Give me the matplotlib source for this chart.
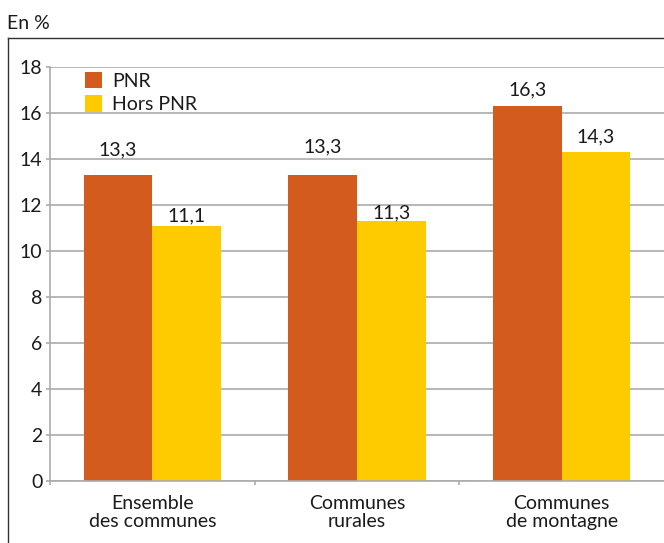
import matplotlib
matplotlib.use("Agg")
import matplotlib.pyplot as plt
import numpy as np
from matplotlib.lines import Line2D

categories = ["Ensemble\ndes communes", "Communes\nrurales", "Communes\nde montagne"]
pnr = [13.3, 13.3, 16.3]
hors_pnr = [11.1, 11.3, 14.3]
series_names = ["PNR", "Hors PNR"]
yticks = [0, 2, 4, 6, 8, 10, 12, 14, 16, 18]

# gap (in pixels) between each bar top and the baseline of its value label
pnr_label_gap = [20, 23, 11]
hors_label_gap = [4, 3, 10]

ORANGE = "#D25B1D"
YELLOW = "#FECB00"
GRID = "#ABABAB"
TEXT = "#1A1A1A"
FS = 14

plt.rcParams["font.family"] = ["Lato", "DejaVu Sans"]

W, H = 664, 543
fig = plt.figure(figsize=(W / 100, H / 100), dpi=100)

# outer frame (left and top edges)
fig.add_artist(Line2D([8 / W, 8 / W], [0, 1 - 38 / H], color="#333333", lw=1.0))
fig.add_artist(Line2D([8 / W, 1], [1 - 38 / H, 1 - 38 / H], color="#333333", lw=1.0))
fig.text(7 / W, 1 - 29 / H, "En %", fontsize=FS, color=TEXT, ha="left", va="baseline")

ax = fig.add_axes([50 / W, 1 - 481 / H, (W - 50) / W, (481 - 67) / H])
x = np.arange(len(categories))
w = 0.336
b1 = ax.bar(x - w / 2, pnr, w, color=ORANGE, label=series_names[0], zorder=2)
b2 = ax.bar(x + w / 2, hors_pnr, w, color=YELLOW, label=series_names[1], zorder=2)

for bars, vals, gaps in ((b1, pnr, pnr_label_gap), (b2, hors_pnr, hors_label_gap)):
    for r, v, g in zip(bars, vals, gaps):
        ax.annotate(f"{v:.1f}".replace(".", ","), (r.get_x() + r.get_width() / 2, v),
                    xytext=(0, g * 0.72), textcoords="offset points", ha="center",
                    va="baseline", fontsize=FS, color=TEXT)

ax.set_xlim(-0.5, 2.5)
ax.set_ylim(0, 18)
ax.set_yticks(yticks)
ax.set_yticklabels([str(t) for t in yticks], fontsize=FS, color=TEXT)
ax.yaxis.grid(True, color=GRID, lw=1.2, zorder=0)
ax.set_axisbelow(True)

ax.set_xticks(x)
ax.set_xticklabels(categories, fontsize=FS, color=TEXT, linespacing=1.05)
ax.tick_params(axis="x", length=0, pad=10)
ax.set_xticks([-0.5, 0.5, 1.5], minor=True)
ax.tick_params(axis="x", which="minor", length=3, color=GRID, width=1.2)
ax.tick_params(axis="y", length=3, color=GRID, width=1.2, pad=2.5)

for s in ("top", "right"):
    ax.spines[s].set_visible(False)
ax.spines["left"].set_color(GRID)
ax.spines["left"].set_linewidth(1.2)
ax.spines["bottom"].set_color(GRID)
ax.spines["bottom"].set_linewidth(1.2)

ax.legend(loc="upper left", bbox_to_anchor=(27 / (W - 50), 1.0 + 3 / 414), frameon=False,
          fontsize=FS, handlelength=0.9, handleheight=0.9, handletextpad=0.5,
          labelspacing=0.3, borderaxespad=0.0, labelcolor=TEXT)

fig.savefig("out.png", dpi=100)
